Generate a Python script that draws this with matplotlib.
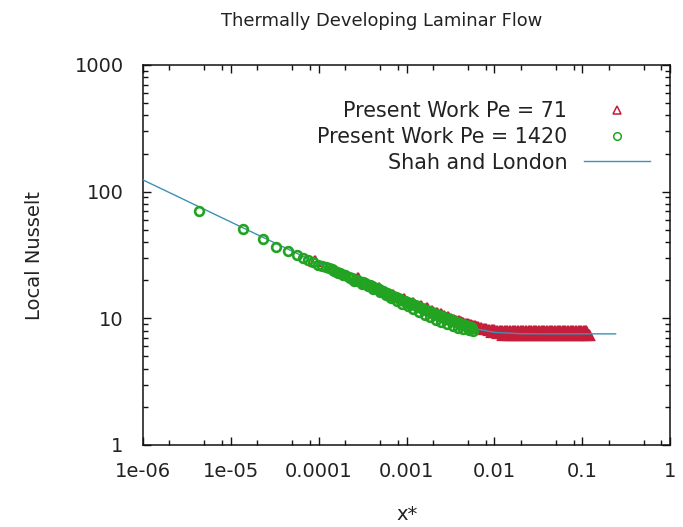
import matplotlib
matplotlib.use('Agg')
import matplotlib.pyplot as plt
from matplotlib.ticker import FixedLocator, FixedFormatter, LogLocator, NullFormatter

# Shah and London correlation
shah_x = [1e-6, 2e-6, 5e-6, 1e-5, 2e-5, 5e-5, 1e-4, 2e-4, 5e-4, 1e-3, 2e-3,
          5e-3, 1e-2, 2e-2, 5e-2, 1e-1, 0.24]
shah_nu = [123.7, 98.3, 72.5, 57.6, 45.8, 33.9, 27.0, 21.5, 15.9, 12.9, 10.6,
           8.5, 7.75, 7.56, 7.54, 7.54, 7.54]

# Present work, Pe = 1420 (green circles)
pe1420_x = [4.35e-6, 1.36e-5, 2.34e-5, 3.27e-5, 4.51e-5, 5.62e-5, 6.68e-5, 7.6e-5,
            8.6e-5, 9.9e-5, 1.1e-4, 1.2e-4,
            1.3e-4, 1.4e-4, 1.5e-4, 1.6e-4, 1.75e-4, 1.9e-4, 2.0e-4, 2.2e-4, 2.4e-4,
            2.6e-4, 2.8e-4, 3.0e-4, 3.2e-4, 3.5e-4, 3.8e-4, 4.1e-4, 4.4e-4, 4.8e-4,
            5.2e-4, 5.6e-4, 6.0e-4, 6.5e-4, 7.0e-4, 7.5e-4, 8.0e-4, 8.7e-4, 9.4e-4,
            1.0e-3, 1.08e-3, 1.16e-3, 1.25e-3, 1.35e-3, 1.45e-3, 1.56e-3, 1.68e-3,
            1.8e-3, 1.95e-3, 2.1e-3, 2.25e-3, 2.4e-3, 2.6e-3, 2.8e-3, 3.0e-3, 3.25e-3,
            3.5e-3, 3.75e-3, 4.0e-3, 4.3e-3, 4.6e-3, 4.95e-3, 5.3e-3, 5.6e-3,
            1.45e-4, 1.67e-4, 1.95e-4, 2.3e-4, 2.7e-4, 3.35e-4, 3.95e-4, 4.6e-4,
            5.4e-4, 6.25e-4, 7.25e-4, 8.35e-4, 9.7e-4, 1.12e-3, 1.3e-3, 1.5e-3,
            1.74e-3, 2.02e-3, 2.33e-3, 2.7e-3, 3.12e-3, 3.62e-3, 4.15e-3, 4.78e-3,
            5.45e-3,
            2.5e-4, 3.1e-4, 3.6e-4, 4.2e-4, 5.0e-4, 5.8e-4, 6.7e-4, 7.8e-4, 9.0e-4,
            1.04e-3, 1.2e-3, 1.4e-3, 1.62e-3, 1.87e-3, 2.17e-3, 2.5e-3, 2.9e-3,
            3.37e-3, 3.9e-3, 4.45e-3, 5.1e-3, 5.7e-3]
pe1420_nu = [70.0, 50.7, 42.1, 36.8, 34.0, 31.6, 30.1, 29.0,
             27.6, 26.4, 25.7, 25.2,
             24.8, 24.3, 23.8, 23.3, 22.7, 22.1, 21.8, 21.2, 20.7,
             20.2, 19.8, 19.5, 19.3, 18.8, 18.3, 17.85, 17.45, 16.95,
             16.5, 16.15, 15.8, 15.4, 15.0, 14.7, 14.4, 14.0, 13.7,
             13.5, 13.25, 12.95, 12.7, 12.4, 12.15, 11.9, 11.65,
             11.4, 11.15, 10.9, 10.7, 10.5, 10.3, 10.1, 9.9, 9.7,
             9.5, 9.3, 9.15, 9.0, 8.85, 8.7, 8.55, 8.45,
             24.0, 23.0, 21.9, 20.9, 20.0, 19.0, 18.0, 17.2,
             16.3, 15.55, 14.85, 14.2, 13.6, 13.1, 12.55, 12.0,
             11.5, 11.0, 10.6, 10.2, 9.8, 9.4, 9.05, 8.75,
             8.5,
             19.8, 18.8, 17.9, 17.1, 16.1, 15.3, 14.5, 13.7, 13.0,
             12.4, 11.8, 11.2, 10.7, 10.2, 9.75, 9.4, 9.05,
             8.7, 8.45, 8.25, 8.05, 7.95]

# Present work, Pe = 71 (red triangles)
pe71_x = [9.1e-5, 2.8e-4, 4.8e-4, 7.0e-4, 9.4e-4, 1.2e-3, 1.45e-3, 1.7e-3, 1.95e-3,
          2.2e-3, 2.45e-3, 2.7e-3, 2.95e-3, 3.2e-3, 3.45e-3, 3.7e-3, 3.95e-3, 4.2e-3,
          4.45e-3, 4.7e-3, 4.95e-3, 5.2e-3, 5.45e-3, 5.7e-3, 5.95e-3,
          6.2e-3, 6.6e-3, 7.1e-3, 7.6e-3, 8.1e-3, 8.7e-3, 9.3e-3, 0.010, 0.0107,
          0.0115, 0.0123, 0.0132, 0.0141, 0.0151, 0.0162, 0.0174, 0.0186, 0.020,
          0.0214, 0.0229, 0.0245, 0.0263, 0.0282, 0.0302, 0.0324, 0.0347, 0.0372,
          0.0398, 0.0427, 0.0457, 0.049, 0.0525, 0.0562, 0.0603, 0.0646, 0.0692,
          0.0741, 0.0794, 0.0851, 0.0912, 0.0977, 0.105, 0.112,
          0.0095, 0.0102, 0.011, 0.0118, 0.0126, 0.0135, 0.0145, 0.0155, 0.0166,
          0.0178, 0.0191, 0.0205, 0.022, 0.0236, 0.0253, 0.0271, 0.029, 0.0311,
          0.0333, 0.0357, 0.0383, 0.041, 0.044, 0.0471, 0.0505, 0.0541, 0.058,
          0.0622, 0.0667, 0.0715, 0.0766, 0.0821, 0.088, 0.0943, 0.101, 0.108,
          0.116, 0.121,
          0.0139, 0.0168, 0.0196, 0.0239, 0.0276, 0.0318, 0.0367, 0.0423, 0.0487,
          0.0556, 0.0632, 0.0727, 0.0838, 0.0965, 0.109]
pe71_nu = [28.5, 21.0, 17.4, 15.4, 14.2, 13.3, 12.6, 12.0, 11.5,
           11.1, 10.75, 10.45, 10.2, 9.95, 9.75, 9.6, 9.45, 9.3,
           9.2, 9.1, 9.0, 8.9, 8.8, 8.7, 8.65,
           8.6, 8.5, 8.4, 8.3, 8.2, 8.15, 8.1, 8.05, 8.0,
           7.97, 7.95, 7.93, 7.92, 7.9, 7.9, 7.9, 7.9, 7.9,
           7.9, 7.9, 7.9, 7.9, 7.9, 7.9, 7.9, 7.9, 7.9,
           7.9, 7.9, 7.9, 7.9, 7.9, 7.9, 7.9, 7.9, 7.9,
           7.9, 7.9, 7.9, 7.9, 7.9, 7.9, 7.9,
           7.75, 7.75, 7.7, 7.7, 7.4, 7.38, 7.36, 7.35, 7.35,
           7.35, 7.35, 7.35, 7.35, 7.35, 7.35, 7.35, 7.35, 7.35,
           7.35, 7.35, 7.35, 7.35, 7.35, 7.35, 7.35, 7.35, 7.35,
           7.35, 7.35, 7.35, 7.35, 7.35, 7.35, 7.35, 7.35, 7.35,
           7.35, 7.35,
           7.6, 7.6, 7.6, 7.6, 7.6, 7.6, 7.6, 7.6, 7.6,
           7.6, 7.6, 7.6, 7.6, 7.6, 7.6]

x_ticks = [1e-6, 1e-5, 1e-4, 1e-3, 1e-2, 1e-1, 1]
x_ticklabels = ['1e-06', '1e-05', '0.0001', '0.001', '0.01', '0.1', '1']
y_ticks = [1, 10, 100, 1000]
y_ticklabels = ['1', '10', '100', '1000']

red = '#c41e3a'
green = '#22a322'
blue = '#3b92b8'
txt = '#222222'

fig = plt.figure(figsize=(6.83, 5.27), dpi=100)
ax = fig.add_axes([143 / 683, 1 - 445 / 527, 527 / 683, 380 / 527])

ax.plot(pe71_x, pe71_nu, linestyle='none', marker='^', markersize=6.5,
        markerfacecolor='none', markeredgecolor=red, markeredgewidth=1.6,
        label='Present Work Pe = 71', zorder=2)
ax.plot(pe1420_x, pe1420_nu, linestyle='none', marker='o', markersize=6.3,
        markerfacecolor='none', markeredgecolor=green, markeredgewidth=1.9,
        label='Present Work Pe = 1420', zorder=4)
ax.plot(shah_x, shah_nu, color=blue, linewidth=1.0, label='Shah and London', zorder=3)

ax.set_xscale('log')
ax.set_yscale('log')
ax.set_xlim(1e-6, 1)
ax.set_ylim(1, 1000)

ax.xaxis.set_major_locator(FixedLocator(x_ticks))
ax.xaxis.set_major_formatter(FixedFormatter(x_ticklabels))
ax.xaxis.set_minor_locator(LogLocator(base=10, subs=(2.0, 5.0, 8.0), numticks=20))
ax.xaxis.set_minor_formatter(NullFormatter())
ax.yaxis.set_major_locator(FixedLocator(y_ticks))
ax.yaxis.set_major_formatter(FixedFormatter(y_ticklabels))
ax.yaxis.set_minor_locator(LogLocator(base=10, subs=range(2, 10), numticks=20))
ax.yaxis.set_minor_formatter(NullFormatter())

ax.tick_params(which='both', direction='in', top=True, right=True, colors='#111111',
               labelcolor=txt, labelsize=14, width=1.0)
ax.tick_params(which='major', length=6)
ax.tick_params(which='minor', length=3.5)
ax.tick_params(axis='x', which='major', pad=12)
ax.tick_params(axis='y', which='major', pad=14)
for sp in ax.spines.values():
    sp.set_linewidth(1.1)
    sp.set_color('#111111')

fig.suptitle('Thermally Developing Laminar Flow', x=382 / 683, y=1 - 21 / 527,
             va='center', fontsize=12.9, color=txt)
ax.set_xlabel('x*', fontsize=14, color=txt, va='center')
ax.xaxis.set_label_coords(407 / 683, 1 - 515 / 527, transform=fig.transFigure)
ax.set_ylabel('Local Nusselt', fontsize=14, color=txt, va='center')
ax.yaxis.set_label_coords(35 / 683, 1 - 255 / 527, transform=fig.transFigure)

# legend: labels right-aligned, keys on the right
leg = ax.legend(loc='upper right', bbox_to_anchor=(650 / 683, 1 - 101 / 527),
                bbox_transform=fig.transFigure, frameon=False, markerfirst=False,
                fontsize=14.9, handlelength=3.2, handletextpad=0.8, labelspacing=0.28,
                borderpad=0, borderaxespad=0, numpoints=1)
for t in leg.get_texts():
    t.set_color(txt)
for h in leg.legend_handles[:2]:
    h.set_markersize(5.5)
    h.set_markeredgewidth(1.1)

fig.savefig('out.png', dpi=100)
